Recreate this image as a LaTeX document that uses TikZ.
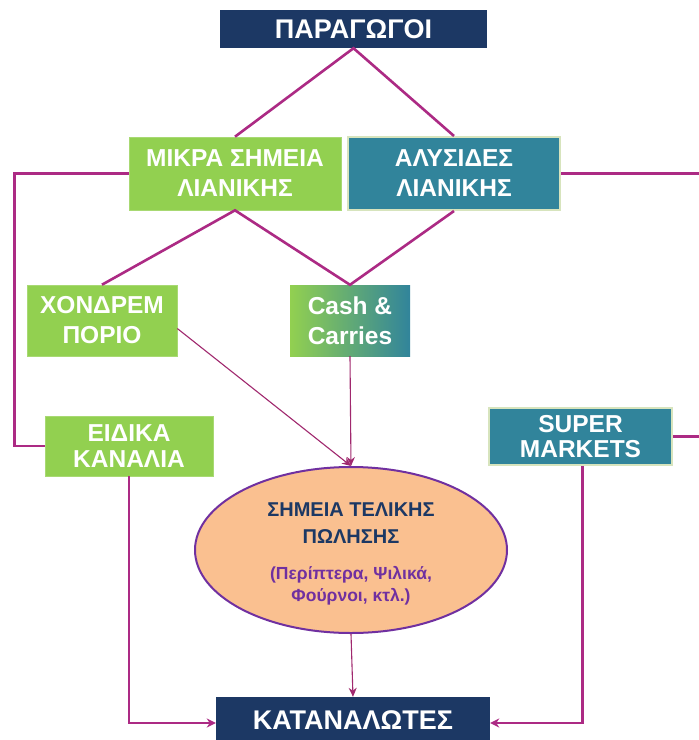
\documentclass[tikz,border=0pt]{standalone}
\usepackage{fontspec}
\setmainfont{Liberation Sans}
\usepackage{xcolor}
\usetikzlibrary{arrows.meta,shapes.geometric}
\definecolor{navy}{RGB}{28,56,100}
\definecolor{leafgreen}{RGB}{146,208,80}
\definecolor{seateal}{RGB}{49,132,155}
\definecolor{paleedge}{RGB}{215,228,189}
\definecolor{peach}{RGB}{250,192,144}
\definecolor{violet}{RGB}{112,48,160}
\definecolor{linkpink}{RGB}{172,42,132}
\definecolor{thinpink}{RGB}{160,40,110}
\tikzset{
  boxtext/.style={text=white,font=\bfseries\fontsize{24.5}{30}\selectfont,align=center,inner sep=0pt},
  navybox/.style={boxtext,fill=navy,font=\bfseries\fontsize{27}{30}\selectfont},
  greenbox/.style={boxtext,fill=leafgreen,draw=leafgreen!80!white,line width=0.6pt},
  tealbox/.style={boxtext,fill=seateal,draw=paleedge,line width=2pt},
  tightlines/.style={font=\bfseries\fontsize{24.5}{25.5}\selectfont},
  link/.style={linkpink,line width=2.6pt},
  thinlink/.style={thinpink,line width=1.1pt,-{Stealth[length=9pt,width=8pt]}},
  footlink/.style={linkpink,line width=2.6pt,-{Stealth[length=9pt,width=9pt]}}
}
\begin{document}
\begin{tikzpicture}[x=1pt,y=-1pt]
\useasboundingbox[fill=white] (0,0) rectangle (699,740);
\node[navybox,minimum width=267pt,minimum height=38pt] (prod) at (353.5,29) {ΠΑΡΑΓΩΓΟΙ};
\node[greenbox,minimum width=212pt,minimum height=73pt] (mikra) at (235,173.5) {ΜΙΚΡΑ ΣΗΜΕΙΑ\\ΛΙΑΝΙΚΗΣ};
\node[tealbox,minimum width=212pt,minimum height=73pt] (alys) at (454,173.5) {ΑΛΥΣΙΔΕΣ\\ΛΙΑΝΙΚΗΣ};
\node[greenbox,minimum width=150pt,minimum height=71pt] (xondr) at (102,320.5) {ΧΟΝΔΡΕΜ\\ΠΟΡΙΟ};
\node[boxtext,left color=leafgreen,right color=seateal,minimum width=120pt,minimum height=71pt] (cash) at (350,320.5) {Cash \&\\Carries};
\node[greenbox,tightlines,minimum width=168pt,minimum height=60pt] (eidika) at (129,446) {ΕΙΔΙΚΑ\\ΚΑΝΑΛΙΑ};
\node[tealbox,tightlines,minimum width=183pt,minimum height=57pt] (super) at (580.5,436.5) {SUPER\\MARKETS};
\node[ellipse,fill=peach,draw=violet,line width=2pt,minimum width=312pt,minimum height=166pt,inner sep=0pt] (ell) at (351,550) {\parbox{210pt}{\centering\bfseries
  {\color{navy}\fontsize{20}{27}\selectfont ΣΗΜΕΙΑ ΤΕΛΙΚΗΣ\\ΠΩΛΗΣΗΣ\par}\vspace{14pt}
  {\color{violet}\fontsize{17.5}{22}\selectfont (Περίπτερα, Ψιλικά,\\Φούρνοι, κτλ.)\par}\vspace{-7pt}}};
\node[navybox,minimum width=274pt,minimum height=46pt] (katan) at (353,720) {ΚΑΤΑΝΑΛΩΤΕΣ};
\coordinate (rside) at (706,0);
\draw[link] (mikra.north) -- (prod.south) -- (alys.north);
\draw[link] (xondr.north) -- (mikra.south) -- (cash.north) -- (alys.south);
\draw[link] (mikra.west) -- ++(-114,0) |- (eidika.west);
\draw[link] (alys.east) -- (alys.east -| rside) -- (super.east -| rside) -- (super.east);
\draw[thinlink] ([yshift=-8pt]xondr.east) -- (ell.north);
\draw[thinlink] (cash.south) -- (ell.north);
\draw[thinlink] (ell.south) -- (katan.north);
\draw[footlink] (eidika.south) |- ([yshift=-3pt]katan.west);
\draw[footlink] ([xshift=2pt]super.south) |- ([yshift=-3pt]katan.east);
\end{tikzpicture}
\end{document}
